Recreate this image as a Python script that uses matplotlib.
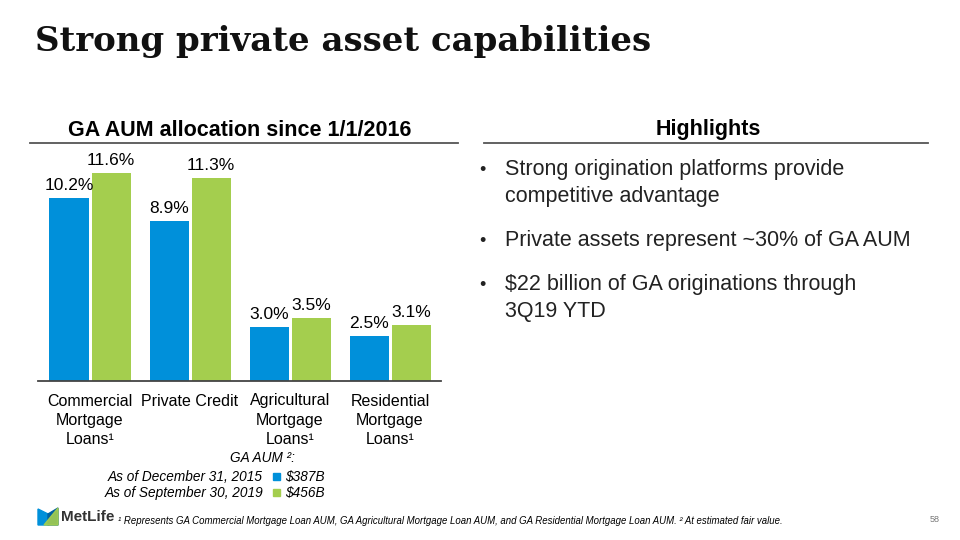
import numpy as np
import matplotlib
matplotlib.use("Agg")
import matplotlib.pyplot as plt
from matplotlib.patches import Polygon, Rectangle
from matplotlib.lines import Line2D

# data
categories = ["Commercial\nMortgage\nLoans¹", "Private Credit",
              "Agricultural\nMortgage\nLoans¹", "Residential\nMortgage\nLoans¹"]
aum_2015 = [10.2, 8.9, 3.0, 2.5]
aum_2019 = [11.6, 11.3, 3.5, 3.1]
series_names = ["As of December 31, 2015", "As of September 30, 2019"]
series_totals = ["$387B", "$456B"]
highlights = ["Strong origination platforms provide\ncompetitive advantage",
              "Private assets represent ~30% of GA AUM",
              "$22 billion of GA originations through\n3Q19 YTD"]

BLUE = "#0090DA"
GREEN = "#A4CE4E"
W, H = 960, 540

def fx(px):
    return px / W

def fy(py):
    return 1 - py / H

fig = plt.figure(figsize=(9.6, 5.4), dpi=100, facecolor="white")
plt.rcParams['font.family'] = ['Liberation Sans', 'DejaVu Sans']

# title
fig.text(fx(35), fy(42), "Strong private asset capabilities", fontsize=24.5,
         fontweight="bold", family="DejaVu Serif", va="center", ha="left", color="#111111")

# section headings
fig.text(fx(240), fy(131), "GA AUM allocation since 1/1/2016", fontsize=15.5,
         fontweight="bold", ha="center", va="center")
fig.text(fx(708), fy(130), "Highlights", fontsize=15.5, fontweight="bold", ha="center", va="center")
fig.add_artist(Line2D([fx(30), fx(458)], [fy(143), fy(143)], color="#555555", lw=1.3))
fig.add_artist(Line2D([fx(484), fx(928)], [fy(143), fy(143)], color="#555555", lw=1.3))

# bar chart
ax = fig.add_axes([fx(38), fy(381), fx(441) - fx(38), fy(150) - fy(381)])
x = np.arange(len(categories))
bw = 0.39
off = 0.21
b1 = ax.bar(x - off, aum_2015, bw, color=BLUE)
b2 = ax.bar(x + off, aum_2019, bw, color=GREEN)
for bars, vals in [(b1, aum_2015), (b2, aum_2019)]:
    for r, v in zip(bars, vals):
        ax.text(r.get_x() + r.get_width() / 2, v + 0.3, f"{v:.1f}%", ha="center",
                va="bottom", fontsize=12.5)
ax.set_xlim(-0.52, 3.51)
ax.set_ylim(0, 12.876)
ax.set_xticks(x)
ax.set_xticklabels(categories, fontsize=11.5, linespacing=1.35, va="top")
ax.tick_params(axis="x", length=0, pad=9)
ax.set_yticks([])
for s in ["top", "left", "right"]:
    ax.spines[s].set_visible(False)
ax.spines["bottom"].set_color("#444444")
ax.spines["bottom"].set_linewidth(1.3)

# legend
fig.text(fx(230), fy(458), "GA AUM ²:", fontsize=9.8, style="italic", ha="left", va="center")
for i, (name, tot, col) in enumerate(zip(series_names, series_totals, [BLUE, GREEN])):
    yy = 477 + 16 * i
    fig.text(fx(263), fy(yy), name, fontsize=9.8, style="italic", ha="right", va="center")
    fig.add_artist(Rectangle((fx(273), fy(yy + 3)), fx(7), fy(0) - fy(7), color=col))
    fig.text(fx(285), fy(yy), tot, fontsize=9.8, style="italic", ha="left", va="center")

# highlights bullets
ys = [169, 240, 284]
for yy, txt in zip(ys, highlights):
    fig.text(fx(479), fy(yy + 1), "•", fontsize=13, ha="left", va="center", color="#222222")
    fig.text(fx(505), fy(yy - 10), txt, fontsize=15.5, ha="left", va="top", linespacing=1.38,
             color="#222222")

# footer: logo
fig.add_artist(Polygon([(fx(38), fy(525)), (fx(38), fy(509)), (fx(48), fy(514)),
                        (fx(48), fy(525))], closed=True, color=BLUE))
fig.add_artist(Polygon([(fx(48), fy(525)), (fx(48), fy(514)), (fx(58), fy(508)),
                        (fx(58), fy(525))], closed=True, color="#0061A0"))
fig.add_artist(Polygon([(fx(44), fy(525)), (fx(58), fy(508)), (fx(58), fy(525))],
                       closed=True, color=GREEN, alpha=0.9))
fig.text(fx(61), fy(517), "MetLife", fontsize=11, fontweight="bold", ha="left", va="center",
         color="#333333")
fig.text(fx(118), fy(521), "¹ Represents GA Commercial Mortgage Loan AUM, GA Agricultural "
         "Mortgage Loan AUM, and GA Residential Mortgage Loan AUM. ² At estimated fair value.",
         fontsize=6.9, style="italic", ha="left", va="center")
fig.text(fx(935), fy(519), "58", fontsize=6.5, color="#777777", ha="center", va="center")

fig.savefig("out.png", dpi=100, facecolor="white")
